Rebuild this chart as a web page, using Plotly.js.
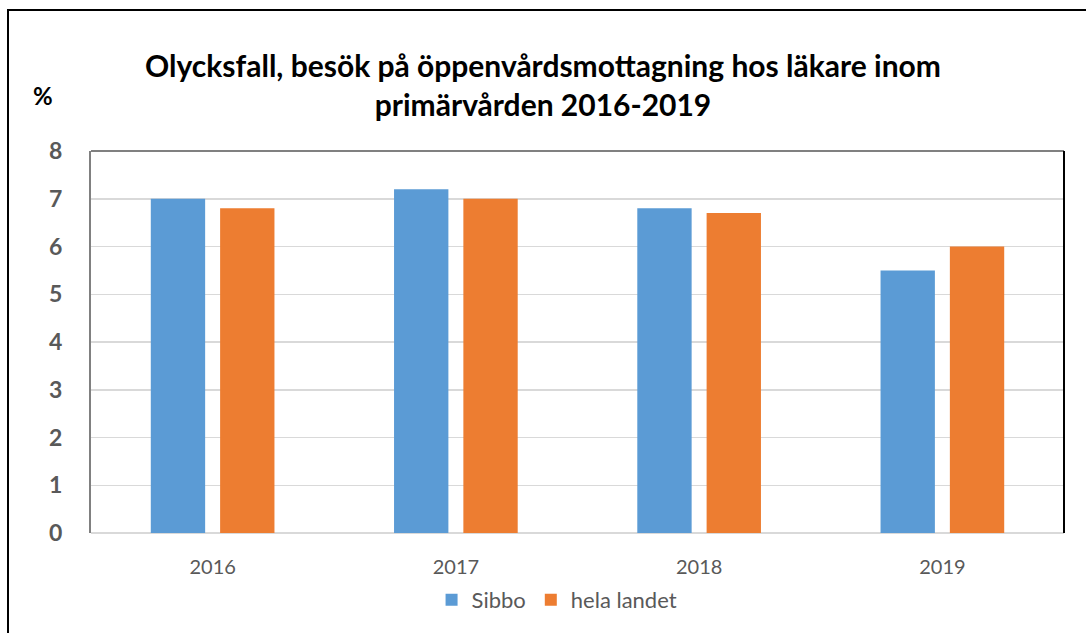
<!DOCTYPE html>
<html>
<head>
<meta charset="utf-8">
<script src="https://cdn.plot.ly/plotly-3.0.1.min.js"></script>
<style>
html,body{margin:0;padding:0;background:#fff;}
#wrap{position:relative;width:1086px;height:633px;overflow:hidden;}
#chart{position:absolute;left:0;top:0;width:1086px;height:633px;}
#frame{position:absolute;left:7px;top:9px;width:1200px;height:800px;border-left:2px solid #000;border-top:2px solid #000;pointer-events:none;}
</style>
</head>
<body>
<div id="wrap"><div id="chart"></div><div id="frame"></div></div>
<script>
const years = ['2016', '2017', '2018', '2019'];
const sibbo = [7.0, 7.2, 6.8, 5.5];
const helaLandet = [6.8, 7.0, 6.7, 6.0];
const yTicks = [0, 1, 2, 3, 4, 5, 6, 7, 8];

const fontFam = 'Lato, "Liberation Sans", sans-serif';

const traces = [
  {type:'bar', name:'Sibbo', x:years, y:sibbo, marker:{color:'#5B9BD5'}, hoverinfo:'skip'},
  {type:'bar', name:'hela landet', x:years, y:helaLandet, marker:{color:'#ED7D31'}, hoverinfo:'skip'}
];

const layout = {
  width:1086, height:633,
  margin:{l:91, r:22, t:151, b:100},
  paper_bgcolor:'rgba(0,0,0,0)', plot_bgcolor:'#fff',
  barmode:'group', bargap:0.43, bargroupgap:0.216,
  title:{text:'<b>Olycksfall, besök på öppenvårdsmottagning hos läkare inom<br>primärvården 2016-2019</b>',
    font:{family:fontFam, size:30, color:'#000'}, x:(543-91)/973, xref:'paper', xanchor:'center',
    y:1-77/633, yref:'container', yanchor:'middle'},
  xaxis:{tickfont:{family:fontFam, size:20, color:'#595959'}, showline:false, ticks:'', showgrid:false, ticklabelstandoff:20},
  yaxis:{range:[0,8], tickvals:yTicks, ticktext:yTicks.map(v=>'<b>'+v+'</b>'),
    tickfont:{family:fontFam, size:23, color:'#595959'}, showgrid:true, gridcolor:'#d9d9d9', gridwidth:1.5,
    zeroline:true, zerolinecolor:'#d9d9d9', zerolinewidth:2, showline:true, linecolor:'#808080', linewidth:2, ticks:'', ticklabelstandoff:22},
  showlegend:true,
  legend:{orientation:'h', x:0.479, xanchor:'center', y:-0.175, yanchor:'middle', font:{family:fontFam, size:22, color:'#595959'}, itemwidth:30, tracegroupgap:0},
  shapes:[
    {type:'line', xref:'paper', yref:'paper', x0:0, x1:1, y0:1, y1:1, line:{color:'#808080', width:2}},
    {type:'line', xref:'paper', yref:'paper', x0:1, x1:1, y0:0, y1:1, line:{color:'#000', width:2}}
  ],
  annotations:[
    {text:'<b>%</b>', xref:'paper', yref:'paper', x:(43-91)/973, y:(533-95)/382, xanchor:'center', yanchor:'middle', showarrow:false,
     font:{family:fontFam, size:24, color:'#000'}}
  ]
};

Plotly.newPlot('chart', traces, layout, {displayModeBar:false, staticPlot:true});
</script>
</body>
</html>
